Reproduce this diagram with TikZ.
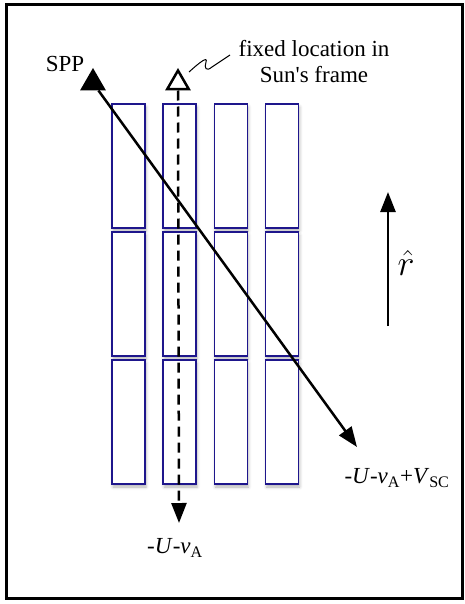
\documentclass[tikz,border=0pt]{standalone}
\usepackage{fontspec}
\setmainfont{Liberation Serif}[Ligatures=TeXOff]
\usetikzlibrary{positioning, shapes.geometric, arrows.meta, shadows.blur}
\definecolor{cellblue}{HTML}{1E168C}

\tikzset{
  cell/.style={draw=cellblue, line width=1.6pt, fill=white, inner sep=0pt,
    minimum width=33pt, minimum height=124pt,
    blur shadow={shadow xshift=1pt, shadow yshift=-3pt, shadow blur radius=3pt, shadow opacity=30}},
  marker/.style={regular polygon, regular polygon sides=3, draw, line width=2.5pt,
    inner sep=0pt, minimum size=25pt},
  flow/.style={line width=2.5pt, -{Triangle[length=20pt,width=15pt]}},
  lbl/.style={inner sep=0pt, align=center},
}

\begin{document}
\begin{tikzpicture}[x=1pt, y=-1pt, font=\fontsize{23}{27}\selectfont]
    \useasboundingbox (0,0) rectangle (465,604);
    \draw[line width=3pt] (6,5) rectangle (462,598);
    % strips
    \foreach \col in {0,...,3}
      \foreach \row in {0,1,2}
        \node[cell] (c-\col-\row) at (128.5+51.2*\col, 166+128*\row) {};
    % markers
    \node[marker, fill=black] (spp) at (93,83) {};
    \node[marker, fill=white] (sun) at (178,83) {};
    \node[lbl] (spplabel) at (65,64) {SPP};
    \node[lbl] (sunlabel) at (314,62) {fixed location in\\[-1pt]Sun's frame};
    \draw[line width=1pt] (189,72) .. controls (200,62) and (208,56) .. (206,62)
      .. controls (204,68) and (206,72) .. (212,67) -- (230,55);
    % velocities
    \coordinate (vaend) at (179,523);
    \coordinate (vscend) at (357,447);
    \draw[flow, dash pattern=on 10pt off 6pt] (sun.south) -- (vaend);
    \draw[flow] (spp) -- (vscend);
    \node[lbl] (valabel) at (175,548) {-\textit{U}-\textit{v}\textsubscript{A}};
    \node[lbl] (vsclabel) at (397,478) {-\textit{U}-\textit{v}\textsubscript{A}+\textit{V}\textsubscript{SC}};
    % radial direction
    \coordinate (rlow) at (388,326);
    \coordinate (rtop) at (388,192);
    \draw[flow] (rlow) -- (rtop);
    \node[lbl, scale=1.45, transform shape] (rhat) at (406,263) {$\hat{r}$};
\end{tikzpicture}
\end{document}
